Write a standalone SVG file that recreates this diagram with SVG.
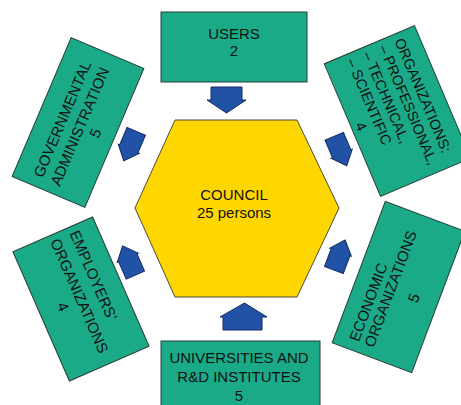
<svg xmlns="http://www.w3.org/2000/svg" width="461" height="405" viewBox="0 0 461 405">
<style>
.box{fill:#1AAA88;stroke:#2a3f37;stroke-width:1}
.hex{fill:#FFD700;stroke:#4d4a3a;stroke-width:1}
.arr{fill:#2152A5;stroke:#112c66;stroke-width:1}
text{font-family:"Liberation Sans",Arial,sans-serif;font-size:15px;fill:#111}
.m{text-anchor:middle}
.s{text-anchor:start}
</style>
<defs>
<path id="sa" d="M-10,-16 L10,-16 L10,3 L11.5,3 L0,16 L-11.5,3 L-10,3 Z"/>
</defs>
<rect x="0" y="0" width="461" height="405" fill="#ffffff"/>
<g id="connectors">
<path class="arr" d="M211,87 L242,87 L242,100 L246,100 L226.5,113 L207,100 L211,100 Z"/>
<path class="arr" d="M223,330 L262,330 L262,317 L267,317 L244.5,303 L220,317 L223,317 Z"/>
<use href="#sa" class="arr" transform="translate(130,146) rotate(23)"/>
<use href="#sa" class="arr" transform="translate(340.5,151) rotate(-23)"/>
<use href="#sa" class="arr" transform="translate(129,260.5) rotate(156.4)"/>
<use href="#sa" class="arr" transform="translate(339.5,255) rotate(200.6)"/>
</g>
<g id="council">
<polygon class="hex" points="175,120 297,120 339,208 297,297 175,297 135,208"/>
<text class="m" x="234" y="200">COUNCIL</text>
<text class="m" x="234" y="218">25 persons</text>
</g>
<g id="users">
<rect class="box" x="161" y="12" width="146" height="70"/>
<text class="m" x="234" y="39">USERS</text>
<text class="m" x="234" y="55.5">2</text>
</g>
<g id="universities">
<rect class="box" x="161" y="341" width="159" height="80"/>
<text class="m" x="239" y="363">UNIVERSITIES AND</text>
<text class="m" x="239" y="382">R&amp;D INSTITUTES</text>
<text class="m" x="239" y="401">5</text>
</g>
<g id="governmental" transform="translate(78,122.5) rotate(23)">
<rect class="box" x="-39.5" y="-75.5" width="79" height="151"/>
<g transform="rotate(-90)">
<text class="m" x="-3" y="-10.6">GOVERNMENTAL</text>
<text class="m" x="-3" y="8.4">ADMINISTRATION</text>
<text class="m" x="-3" y="25.4">5</text>
</g>
</g>
<g id="organizations" transform="translate(397.5,111) rotate(-23)">
<rect class="box" x="-49" y="-72" width="98" height="144"/>
<g transform="rotate(90)">
<text class="s" x="-66" y="-24.6" style="font-size:14.5px">ORGANIZATIONS:</text>
<text class="s" x="-66" y="-7.3" style="font-size:14.5px">– PROFESSIONAL,</text>
<text class="s" x="-66" y="10" style="font-size:14.5px">– TECHNICAL,</text>
<text class="s" x="-66" y="27.3" style="font-size:14.5px">– SCIENTIFIC</text>
<text class="m" x="0" y="44.6" style="font-size:14.5px">4</text>
</g>
</g>
<g id="economic" transform="translate(398.5,287) rotate(20.6)">
<rect class="box" x="-42.5" y="-75.5" width="85" height="151"/>
<g transform="rotate(-90)">
<text class="s" x="-66" y="-17.6">ECONOMIC</text>
<text class="s" x="-66" y="-1.6">ORGANIZATIONS</text>
<text class="m" x="-4.8" y="23.4">5</text>
</g>
</g>
<g id="employers" transform="translate(81,299) rotate(-23.6)">
<rect class="box" x="-43.5" y="-70.5" width="87" height="141"/>
<g transform="rotate(90)">
<text class="s" x="-65" y="-15.6">EMPLOYERS’</text>
<text class="s" x="-65" y="5.4">ORGANIZATIONS</text>
<text class="m" x="0" y="24.7">4</text>
</g>
</g>
</svg>
